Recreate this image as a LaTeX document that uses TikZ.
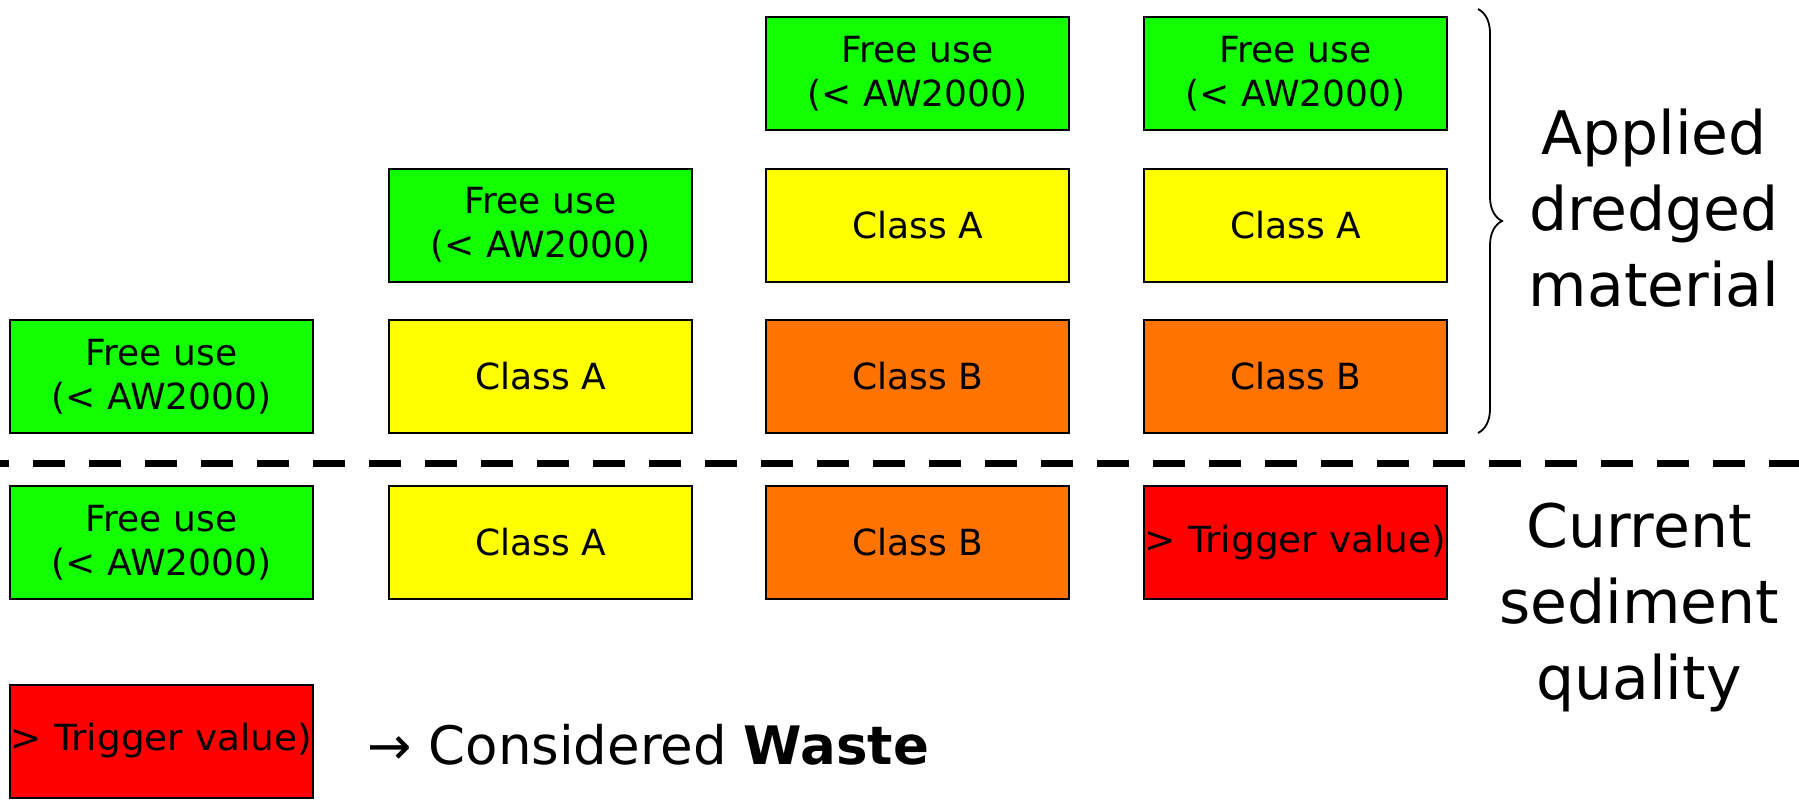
\documentclass[tikz,border=0pt]{standalone}
\usepackage{fontspec}
\setmainfont{DejaVu Sans}
\usetikzlibrary{positioning,decorations.pathreplacing}

\definecolor{freegreen}{RGB}{17,255,0}
\definecolor{classyellow}{RGB}{255,255,0}
\definecolor{classorange}{RGB}{255,115,0}
\definecolor{triggerred}{RGB}{255,0,0}

\begin{document}
\begin{tikzpicture}[x=0.5pt, y=-0.5pt,
    box/.style={draw=black, line width=1pt, minimum width=151.5pt,
        minimum height=56.5pt, inner sep=0pt, align=center,
        font=\fontsize{18}{22}\selectfont},
    freebox/.style={box, fill=freegreen},
    classabox/.style={box, fill=classyellow},
    classbbox/.style={box, fill=classorange},
    triggerbox/.style={box, fill=triggerred},
    biglabel/.style={align=center, font=\fontsize{30}{38}\selectfont}
    ]
    \useasboundingbox (0,0) rectangle (1799,799);

    % Applied dredged material
    \node[freebox] (a1free) at (161.5,376.5) {Free use\\(< AW2000)};

    \node[freebox] (a2free) at (540.5,225) {Free use\\(< AW2000)};
    \node[classabox] (a2classA) at (540.5,376.5) {Class A};

    \node[freebox] (a3free) at (917.5,73.5) {Free use\\(< AW2000)};
    \node[classabox] (a3classA) at (917.5,225) {Class A};
    \node[classbbox] (a3classB) at (917.5,376.5) {Class B};

    \node[freebox] (a4free) at (1295.5,73.5) {Free use\\(< AW2000)};
    \node[classabox] (a4classA) at (1295.5,225) {Class A};
    \node[classbbox] (a4classB) at (1295.5,376.5) {Class B};

    \coordinate (bracetop) at (1478,9);
    \coordinate (bracebot) at (1478,433);
    \draw[decorate, decoration={brace, amplitude=12pt}, line width=0.9pt]
        (bracetop) -- (bracebot);
    \node[biglabel] (appliedlabel) at (1654,208) {Applied\\dredged\\material};

    % separator
    \coordinate (sepleft) at (0,463);
    \coordinate (sepright) at (1799,463);
    \draw[line width=3.5pt, dash pattern=on 16pt off 12pt, dash phase=11.5pt]
        (sepleft) -- (sepright);

    % Current sediment quality
    \node[freebox] (c1free) at (161.5,542.5) {Free use\\(< AW2000)};
    \node[classabox] (c2classA) at (540.5,542.5) {Class A};
    \node[classbbox] (c3classB) at (917.5,542.5) {Class B};
    \node[triggerbox] (c4trigger) at (1295.5,542.5)
        {\scalebox{1.04}[1]{> Trigger value)}};
    \node[biglabel] (currentlabel) at (1639,607) {Current\\sediment\\quality};

    % waste
    \node[triggerbox] (wastebox) at (161.5,741)
        {\scalebox{1.04}[1]{> Trigger value)}};
    \node[anchor=base west, inner sep=0pt, font=\fontsize{26.5}{30}\selectfont]
        (wastetext) at (367,764) {→ Considered \textbf{Waste}};

\end{tikzpicture}
\end{document}
